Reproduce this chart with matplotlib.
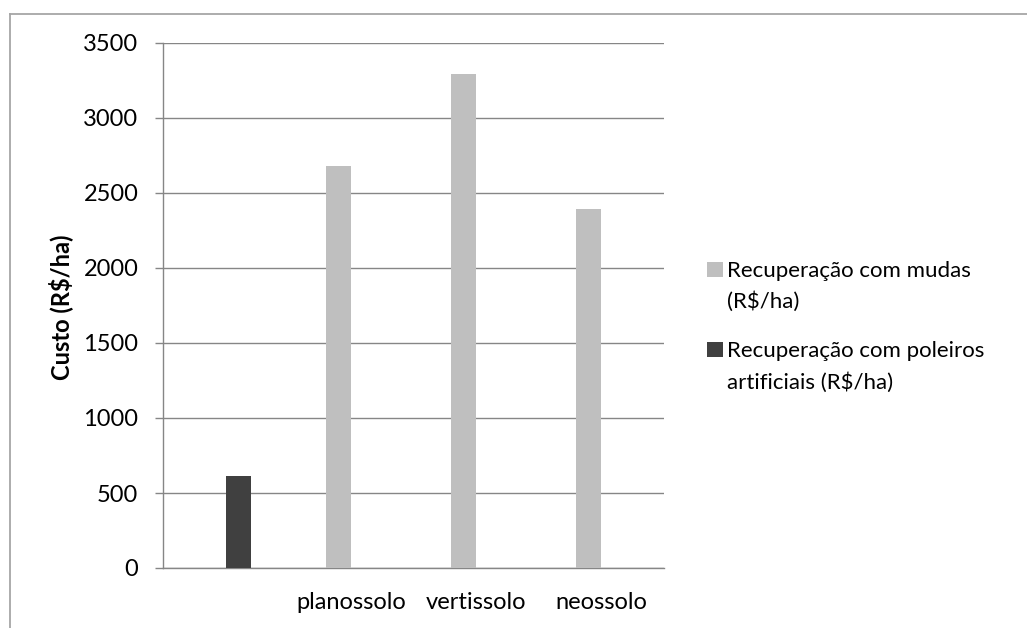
import matplotlib
matplotlib.use("Agg")
import matplotlib.pyplot as plt
from matplotlib.patches import Rectangle
from matplotlib.lines import Line2D
import numpy as np

# data
categories = ["", "planossolo", "vertissolo", "neossolo"]
mudas = [0, 2680, 3290, 2393]
poleiros = [615, 0, 0, 0]
series_names = ["Recuperação com mudas\n(R$/ha)",
                "Recuperação com poleiros\nartificiais (R$/ha)"]
series_colors = ["#bfbfbf", "#404040"]
yticks = [0, 500, 1000, 1500, 2000, 2500, 3000, 3500]

W, H = 1027, 628
FS = 17
plt.rcParams["font.family"] = ["Lato", "DejaVu Sans"]

fig = plt.figure(figsize=(W / 100, H / 100), dpi=100)


def px(x, y):
    """pixel coords (top-left origin) -> figure fraction"""
    return x / W, 1 - y / H


# outer chart frame (only left and top visible in the crop)
fig.add_artist(Line2D([10 / W, 10 / W], [0, 1 - 14 / H], transform=fig.transFigure,
                      color="#a6a6a6", lw=1.3))
fig.add_artist(Line2D([10 / W, 1], [1 - 14 / H, 1 - 14 / H], transform=fig.transFigure,
                      color="#a6a6a6", lw=1.3))

ax = fig.add_axes([163 / W, (H - 568) / H, (664 - 163) / W, (568 - 43) / H])
x = np.arange(len(categories))
width = 0.2
ax.bar(x - width / 2, mudas, width, color=series_colors[0], zorder=3)
ax.bar(x + width / 2, poleiros, width, color=series_colors[1], zorder=3)

ax.set_xlim(-0.5, len(categories) - 0.5)
ax.set_ylim(0, 3500)
ax.set_yticks(yticks)
ax.set_yticklabels([str(v) for v in yticks], fontsize=FS)
ax.set_xticks(x)
ax.set_xticklabels(categories, fontsize=FS)
ax.tick_params(axis="x", length=0, pad=17)
ax.tick_params(axis="y", length=5.8, width=1, color="#868686", pad=12)
ax.grid(axis="y", color="#868686", lw=1, zorder=0)
for s in ["top", "right"]:
    ax.spines[s].set_visible(False)
for s in ["left", "bottom"]:
    ax.spines[s].set_color("#868686")
    ax.spines[s].set_linewidth(1)

fig.text(*px(61, 307), "Custo (R$/ha)", rotation=90, fontsize=FS, fontweight="bold",
         ha="center", va="center")

# legend, drawn Excel style with the swatch level with the first line
# (baseline of line 1, baseline of line 2) in pixels
leg_rows = [(277, 308), (357, 389)]
for name, color, (y1, y2) in zip(series_names, series_colors, leg_rows):
    fig.add_artist(Rectangle(px(707, y1), 16 / W, 15 / H, transform=fig.transFigure,
                             facecolor=color, edgecolor="none"))
    first, second = name.split("\n")
    fig.text(*px(727, y1), first, fontsize=16, ha="left", va="baseline")
    fig.text(*px(727, y2), second, fontsize=16, ha="left", va="baseline")

fig.savefig("out.png", dpi=100)
